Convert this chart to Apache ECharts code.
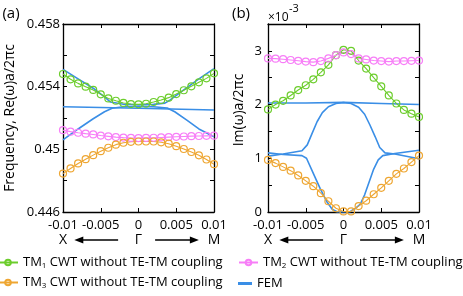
<!DOCTYPE html>
<html><head><meta charset="utf-8">
<script src="https://cdn.jsdelivr.net/npm/echarts@6/dist/echarts.min.js"></script>
<style>html,body{margin:0;padding:0;background:#fff}#c{width:463px;height:296px}</style>
</head><body><div id="c"></div>
<script>
// ---- data ----
const xs = [-0.01,-0.009,-0.008,-0.007,-0.006,-0.005,-0.004,-0.003,-0.002,-0.001,0,0.001,0.002,0.003,0.004,0.005,0.006,0.007,0.008,0.009,0.01];
const xTicks = [-0.01,-0.005,0,0.005,0.01];
const yTicksA = [0.446,0.45,0.454,0.458];
const yTicksB = [0,1,2,3];
// panel (a): Re(omega) a / 2 pi c
const reTM1 = [0.45481,0.45447,0.45421,0.45400,0.45379,0.45351,0.45325,0.45310,0.45296,0.45289,0.45287,0.45291,0.45302,0.45315,0.45330,0.45353,0.45377,0.45402,0.45428,0.45453,0.45485];
const reTM2 = [0.45122,0.45113,0.45106,0.45100,0.45095,0.45088,0.45083,0.45078,0.45075,0.45073,0.45072,0.45073,0.45074,0.45076,0.45078,0.45080,0.45082,0.45084,0.45085,0.45086,0.45087];
const reTM3 = [0.44845,0.44878,0.44910,0.44937,0.44963,0.44988,0.45010,0.45030,0.45042,0.45048,0.45050,0.45050,0.45050,0.45045,0.45036,0.45020,0.45002,0.44983,0.44962,0.44935,0.44905];
const reFemFlat  = [[-0.01,0.45272],[0,0.45262],[0.01,0.45251]];
const reFemUpper = [[-0.01,0.4551],[-0.008,0.4545],[-0.006,0.4539],[-0.0045,0.45335],[-0.0037,0.45302],[-0.002,0.45288],[0,0.45285],[0.002,0.45287],[0.0035,0.45295],[0.0042,0.45315],[0.006,0.4538],[0.008,0.4545],[0.01,0.45515]];
const reFemLower = [[-0.01,0.4506],[-0.008,0.4513],[-0.006,0.45195],[-0.0045,0.4524],[-0.0035,0.45262],[-0.002,0.45272],[0,0.45275],[0.002,0.45272],[0.0038,0.45264],[0.0048,0.4524],[0.0064,0.45187],[0.008,0.4513],[0.01,0.4508]];
// panel (b): Im(omega) a / 2 pi c  (x 1e-3)
const imTM1 = [1.91,2.0,2.07,2.17,2.27,2.36,2.47,2.60,2.74,2.92,3.02,3.00,2.82,2.67,2.50,2.34,2.17,2.02,1.90,1.83,1.77];
const imTM2 = [2.86,2.855,2.845,2.83,2.815,2.80,2.79,2.81,2.86,2.92,2.97,2.94,2.86,2.84,2.82,2.81,2.80,2.81,2.81,2.815,2.82];
const imTM3 = [0.97,0.91,0.84,0.77,0.68,0.58,0.48,0.35,0.20,0.07,0.01,0.01,0.11,0.21,0.33,0.45,0.58,0.71,0.81,0.93,1.05];
const imFemFlat = [[-0.01,2.03],[-0.005,2.03],[0,2.04],[0.005,2.02],[0.01,2.0]];
const imFemDome = [[-0.01,1.04],[-0.008,1.08],[-0.0055,1.14],[-0.0048,1.25],[-0.0042,1.45],[-0.0035,1.68],[-0.0028,1.85],[-0.002,1.96],[-0.001,2.02],[0,2.04],[0.001,2.02],[0.002,1.95],[0.0028,1.82],[0.0035,1.62],[0.0042,1.4],[0.0048,1.2],[0.0055,1.1],[0.0068,1.08],[0.01,0.99]];
const imFemLow  = [[-0.01,1.1],[-0.008,1.07],[-0.0055,1.05],[-0.0049,1.0],[-0.004,0.72],[-0.0031,0.44],[-0.0022,0.19],[-0.0015,0.05],[-0.0008,0.0],[0,0.0],[0.0008,0.0],[0.0015,0.06],[0.0022,0.14],[0.0028,0.32],[0.0035,0.6],[0.004,0.8],[0.0046,0.97],[0.0052,1.05],[0.0068,1.09],[0.01,1.15]];

const C_GREEN = '#6ccd2c', C_PINK = '#f77ef7', C_ORANGE = '#eea632', C_BLUE = '#3a8ee6';
const FONT = 'Open Sans';

const zip = ys => xs.map((x, i) => [x, ys[i]]);
const chart = echarts.init(document.getElementById('c'), null, {renderer: 'canvas'});

function xAxes(gridIndex) {
  const base = {type: 'value', gridIndex, min: -0.01, max: 0.01, interval: 0.005,
    axisLine: {show: true, onZero: false, lineStyle: {color: '#000', width: 1.3}},
    axisTick: {show: true, inside: true, length: 4, lineStyle: {color: '#000', width: 1}},
    splitLine: {show: false}};
  return [
    Object.assign({}, base, {position: 'bottom',
      axisLabel: {show: true, margin: 7, color: '#000', fontSize: 13, fontFamily: FONT,
        formatter: v => xTicks.some(t => Math.abs(t - v) < 1e-9) ? String(parseFloat(v.toFixed(3))) : ''}}),
    Object.assign({}, base, {position: 'top', axisLabel: {show: false}})
  ];
}
function yAxes(gridIndex, min, max, interval, labels, margin) {
  const base = {type: 'value', gridIndex, min, max, interval,
    axisLine: {show: true, onZero: false, lineStyle: {color: '#000', width: 1.3}},
    axisTick: {show: true, inside: true, length: 4, lineStyle: {color: '#000', width: 1}},
    splitLine: {show: false}};
  return [
    Object.assign({}, base, {position: 'left',
      axisLabel: {show: true, margin, color: '#000', fontSize: 13, fontFamily: FONT,
        formatter: v => labels.some(t => Math.abs(t - v) < 1e-9) ? String(parseFloat(v.toFixed(3))) : ''}}),
    Object.assign({}, base, {position: 'right', axisLabel: {show: false}})
  ];
}
function cwt(name, color, data, xi, yi) {
  return {type: 'line', name, xAxisIndex: xi, yAxisIndex: yi, data,
    symbol: 'circle', symbolSize: 7, showSymbol: true,
    lineStyle: {color, width: 1.1},
    itemStyle: {color: 'rgba(0,0,0,0)', borderColor: color, borderWidth: 1.2},
    emphasis: {disabled: true}, animation: false, z: 3};
}
function fem(data, xi, yi) {
  return {type: 'line', name: 'FEM', xAxisIndex: xi, yAxisIndex: yi, data,
    symbol: 'none', lineStyle: {color: C_BLUE, width: 1.6}, itemStyle: {color: C_BLUE},
    emphasis: {disabled: true}, animation: false, z: 2};
}
const legendFmt = name => name === 'FEM' ? 'FEM' : 'TM{s|' + name.slice(2) + '} CWT without TE-TM coupling';
const legendText = {color: '#000', fontSize: 13, fontFamily: FONT,
  rich: {s: {fontSize: 8, fontFamily: FONT, color: '#000', padding: [7, 0, 0, 0]}}};
function leg(name, left, top, w) {
  return {left, top, itemWidth: w, itemHeight: 7, itemGap: 0, padding: 0, data: [name],
    formatter: legendFmt, textStyle: legendText, selectedMode: false};
}

chart.setOption({
  animation: false,
  backgroundColor: '#fff',
  grid: [
    {left: 63, top: 24, width: 151, height: 188},
    {left: 268, top: 24, width: 151, height: 188}
  ],
  xAxis: [...xAxes(0), ...xAxes(1)],
  yAxis: [...yAxes(0, 0.446, 0.458, 0.002, yTicksA, 3), ...yAxes(1, 0, 3.5, 0.5, yTicksB, 6)],
  legend: [
    leg('TM1', -3, 256, 20),
    leg('TM3', -3, 276, 20),
    leg('TM2', 238, 256, 19),
    Object.assign(leg('FEM', 238, 277, 14), {data: [{name: 'FEM', icon: 'rect', itemStyle: {color: C_BLUE}}], itemHeight: 3})
  ],
  series: [
    fem(reFemFlat, 0, 0), fem(reFemUpper, 0, 0), fem(reFemLower, 0, 0),
    cwt('TM1', C_GREEN, zip(reTM1), 0, 0),
    cwt('TM2', C_PINK, zip(reTM2), 0, 0),
    cwt('TM3', C_ORANGE, zip(reTM3), 0, 0),
    fem(imFemFlat, 2, 2), fem(imFemDome, 2, 2), fem(imFemLow, 2, 2),
    cwt('TM1', C_GREEN, zip(imTM1), 2, 2),
    cwt('TM2', C_PINK, zip(imTM2), 2, 2),
    cwt('TM3', C_ORANGE, zip(imTM3), 2, 2)
  ]
});

// annotations positioned from the axes
const g = [];
function txt(x, y, text, size, extra) {
  g.push(Object.assign({type: 'text', x, y, style: {text, fill: '#000', fontSize: size, fontFamily: FONT,
    align: 'center', verticalAlign: 'middle'}}, extra || {}));
}
function arrow(x1, x2, y) { // head at x2
  const d = x2 > x1 ? 1 : -1;
  g.push({type: 'line', shape: {x1, y1: y, x2: x2 - d * 6, y2: y}, style: {stroke: '#000', lineWidth: 1.4}});
  g.push({type: 'polygon', shape: {points: [[x2, y], [x2 - d * 9, y - 3.5], [x2 - d * 9, y + 3.5]]}, style: {fill: '#000'}});
}
[0, 1].forEach(gi => {
  const xi = gi === 0 ? 0 : 2;
  const px = v => chart.convertToPixel({xAxisIndex: xi}, v);
  const rowY = 240;
  txt(px(-0.01), rowY, 'X', 14);
  txt(px(0), rowY, 'Γ', 14);
  txt(px(0.01), rowY, 'M', 14);
  arrow(px(-0.0027), px(-0.0085), rowY);
  arrow(px(0.0022), px(0.008), rowY);
});
const yMidA = chart.convertToPixel({yAxisIndex: 0}, 0.452);
const yMidB = chart.convertToPixel({yAxisIndex: 2}, 1.75);
txt(10, yMidA, 'Frequency, Re(ω)a/2πc', 14, {rotation: Math.PI / 2});
txt(239, yMidB - 8, 'Im(ω)a/2πc', 14, {rotation: Math.PI / 2});
txt(11, 14, '(a)', 15);
txt(241, 14, '(b)', 15);
g.push({type: 'text', x: 268, y: 18, style: {text: '×10', fill: '#000', fontSize: 12, fontFamily: FONT, align: 'left', verticalAlign: 'middle'}});
g.push({type: 'text', x: 289, y: 9, style: {text: '-3', fill: '#000', fontSize: 11, fontFamily: FONT, align: 'left', verticalAlign: 'middle'}});
chart.setOption({graphic: g});
</script></body></html>
